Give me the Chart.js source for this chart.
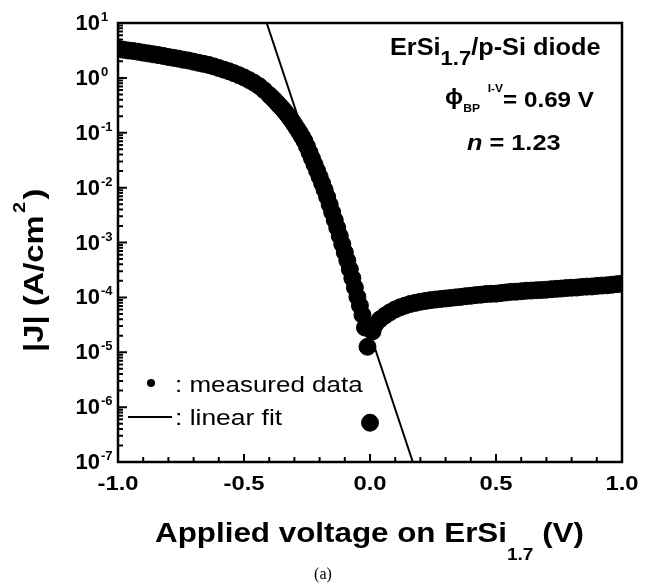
<!DOCTYPE html>
<html>
<head>
<meta charset="utf-8">
<script src="https://cdn.jsdelivr.net/npm/chart.js@4.4.1/dist/chart.umd.min.js"></script>
<style>
  html, body { margin: 0; padding: 0; background: #fff; }
  #wrap { width: 651px; height: 585px; }
</style>
</head>
<body>
<div id="wrap"><canvas id="ivChart" width="651" height="585"></canvas></div>
<script>
// measured |J|-V data of the ErSi1.7/p-Si diode
const measuredV = [
  -1.00, -0.98, -0.96, -0.94, -0.92, -0.90, -0.88, -0.86, -0.84, -0.82,
  -0.80, -0.78, -0.76, -0.74, -0.72, -0.70, -0.68, -0.66, -0.64, -0.62,
  -0.60, -0.58, -0.56, -0.54, -0.52, -0.50, -0.48, -0.46, -0.44, -0.42,
  -0.40, -0.39, -0.38, -0.37, -0.36, -0.35, -0.34, -0.33, -0.32, -0.31,
  -0.30, -0.29, -0.28, -0.27, -0.26, -0.25, -0.24, -0.23, -0.22, -0.21,
  -0.20, -0.19, -0.18, -0.17, -0.16, -0.15, -0.14, -0.13, -0.12, -0.11,
  -0.10, -0.09, -0.08, -0.07, -0.06, -0.05, -0.04, -0.03, -0.02, -0.01,
  0.00, 0.01, 0.02, 0.04, 0.06, 0.08, 0.10, 0.12, 0.14, 0.16,
  0.18, 0.20, 0.22, 0.24, 0.26, 0.28, 0.30, 0.32, 0.34, 0.36,
  0.38, 0.40, 0.42, 0.44, 0.46, 0.48, 0.50, 0.52, 0.54, 0.56,
  0.58, 0.60, 0.62, 0.64, 0.66, 0.68, 0.70, 0.72, 0.74, 0.76,
  0.78, 0.80, 0.82, 0.84, 0.86, 0.88, 0.90, 0.92, 0.94, 0.96,
  0.98, 1.00
];
const measuredJ = [
  3.39, 3.27, 3.16, 3.09, 2.99, 2.88, 2.79, 2.69, 2.60, 2.51,
  2.40, 2.32, 2.24, 2.14, 2.07, 1.97, 1.88, 1.80, 1.72, 1.62,
  1.51, 1.41, 1.32, 1.22, 1.12, 1.02, 0.912, 0.813, 0.708, 0.596,
  0.490, 0.442, 0.398, 0.355, 0.316, 0.282, 0.251, 0.219, 0.191, 0.166,
  0.141, 0.120, 0.102, 0.0851, 0.0708, 0.0562, 0.0437, 0.0339, 0.0263, 0.0204,
  0.0158, 0.0120, 9.12e-3, 6.76e-3, 4.90e-3, 3.55e-3, 2.57e-3, 1.86e-3, 1.32e-3, 9.33e-4,
  6.61e-4, 4.68e-4, 3.24e-4, 2.24e-4, 1.51e-4, 1.02e-4, 7.08e-5, 4.79e-5, 2.82e-5, 1.26e-5,
  5.2e-7, 2.40e-5, 3.16e-5, 3.98e-5, 4.68e-5, 5.37e-5, 6.03e-5, 6.61e-5, 7.08e-5, 7.59e-5,
  7.94e-5, 8.32e-5, 8.61e-5, 8.91e-5, 9.12e-5, 9.33e-5, 9.55e-5, 9.77e-5, 1.00e-4, 1.02e-4,
  1.05e-4, 1.07e-4, 1.10e-4, 1.12e-4, 1.15e-4, 1.16e-4, 1.17e-4, 1.20e-4, 1.23e-4, 1.26e-4,
  1.27e-4, 1.29e-4, 1.32e-4, 1.33e-4, 1.35e-4, 1.36e-4, 1.38e-4, 1.41e-4, 1.43e-4, 1.45e-4,
  1.48e-4, 1.50e-4, 1.51e-4, 1.55e-4, 1.57e-4, 1.58e-4, 1.62e-4, 1.64e-4, 1.66e-4, 1.70e-4,
  1.74e-4, 1.78e-4
];

// linear fit of the forward branch (n = 1.23)
const fitV = [-0.41, 0.17];
const fitJ = [10, 1e-7];

// axis ticks
const xMajorTicks = [-1, -0.5, 0, 0.5, 1];
const xTickLabels = ['-1.0', '-0.5', '0.0', '0.5', '1.0'];
const yDecades = [1, 0, -1, -2, -3, -4, -5, -6, -7];
const yTickExps = ['1', '0', '-1', '-2', '-3', '-4', '-5', '-6', '-7'];

const SANS = '"Liberation Sans", Arial, sans-serif';

// draw a row of text pieces (main text, sub/superscripts) with a horizontal stretch
function drawRuns(ctx, parts, x, y, stretch) {
  ctx.save();
  ctx.translate(x, y);
  ctx.scale(stretch, 1);
  ctx.textAlign = 'left';
  ctx.textBaseline = 'alphabetic';
  let cx = 0;
  parts.forEach(p => {
    ctx.font = p.font;
    ctx.fillText(p.t, cx + (p.dx || 0), p.dy || 0);
    cx += ctx.measureText(p.t).width + (p.dx || 0);
  });
  ctx.restore();
}

const framePlugin = {
  id: 'frame',
  afterDraw(chart) {
    const ctx = chart.ctx;
    const a = chart.chartArea;
    const xs = chart.scales.x, ys = chart.scales.y;
    ctx.save();
    ctx.fillStyle = '#000';
    ctx.strokeStyle = '#000';

    // plot frame
    ctx.lineWidth = 2.5;
    ctx.strokeRect(a.left, a.top, a.right - a.left, a.bottom - a.top);

    // y ticks (inward, decade + minor)
    ctx.lineWidth = 2;
    ctx.beginPath();
    yDecades.forEach(d => {
      const py = ys.getPixelForValue(Math.pow(10, d));
      ctx.moveTo(a.left, py); ctx.lineTo(a.left + 9, py);
      if (d > -7) {
        for (let m = 2; m <= 9; m++) {
          const my = ys.getPixelForValue(m * Math.pow(10, d - 1));
          ctx.moveTo(a.left, my); ctx.lineTo(a.left + 5, my);
        }
      }
    });
    // x ticks
    for (let i = -10; i <= 10; i++) {
      const v = i / 10;
      const px = xs.getPixelForValue(v);
      const len = (i % 5 === 0) ? 8 : 5;
      ctx.moveTo(px, a.bottom); ctx.lineTo(px, a.bottom - len);
    }
    ctx.stroke();

    // y tick labels
    yDecades.forEach((d, i) => {
      const py = ys.getPixelForValue(Math.pow(10, d));
      ctx.font = 'bold 22px ' + SANS;
      ctx.textAlign = 'right';
      ctx.textBaseline = 'alphabetic';
      ctx.fillText('10', 100, py + 7);
      ctx.font = 'bold 13px ' + SANS;
      ctx.textAlign = 'left';
      ctx.fillText(yTickExps[i], 101, py - 2);
    });

    // x tick labels
    xMajorTicks.forEach((v, i) => {
      const px = xs.getPixelForValue(v);
      ctx.font = 'bold 20px ' + SANS;
      const w = ctx.measureText(xTickLabels[i]).width * 1.19;
      drawRuns(ctx, [{ t: xTickLabels[i], font: 'bold 20px ' + SANS }], px - w / 2, 490, 1.19);
    });

    // axis titles
    drawRuns(ctx, [
      { t: 'Applied voltage on ErSi', font: 'bold 28px ' + SANS },
      { t: '1.7', font: 'bold 17px ' + SANS, dy: 18 },
      { t: ' (V)', font: 'bold 28px ' + SANS }
    ], 155, 542, 1.12);

    ctx.save();
    ctx.translate(43, 352);
    ctx.rotate(-Math.PI / 2);
    drawRuns(ctx, [
      { t: '|J| (A/cm', font: 'bold 28px ' + SANS },
      { t: '2', font: 'bold 17px ' + SANS, dy: -18, dx: 2 },
      { t: ')', font: 'bold 28px ' + SANS, dx: 2 }
    ], 0, 0, 1.17);
    ctx.restore();

    // annotation block
    drawRuns(ctx, [
      { t: 'ErSi', font: 'bold 23px ' + SANS },
      { t: '1.7', font: 'bold 20px ' + SANS, dy: 10 },
      { t: '/p-Si diode', font: 'bold 23px ' + SANS }
    ], 390, 55, 1.1);
    drawRuns(ctx, [
      { t: '\u03D5', font: 'bold 22px ' + SANS, dy: -3 },
      { t: 'BP', font: 'bold 11px ' + SANS, dy: 5 },
      { t: 'I-V', font: 'bold 11px ' + SANS, dy: -15, dx: 7 },
      { t: '= 0.69 V', font: 'bold 22px ' + SANS }
    ], 445, 107, 1.1);
    drawRuns(ctx, [
      { t: 'n', font: 'italic bold 22px ' + SANS },
      { t: ' = 1.23', font: 'bold 22px ' + SANS }
    ], 467, 150, 1.15);

    // legend
    ctx.beginPath();
    ctx.arc(151, 383, 4, 0, Math.PI * 2);
    ctx.fill();
    drawRuns(ctx, [{ t: ': measured data', font: '22px ' + SANS }], 175, 392, 1.18);
    ctx.lineWidth = 2;
    ctx.beginPath();
    ctx.moveTo(128, 417); ctx.lineTo(172, 417);
    ctx.stroke();
    drawRuns(ctx, [{ t: ': linear fit', font: '22px ' + SANS }], 175, 425, 1.2);

    // panel label
    ctx.font = '16px "Liberation Serif", "Times New Roman", serif';
    ctx.textAlign = 'center';
    ctx.fillText('(a)', 323, 579);
    ctx.restore();
  }
};

const ctx = document.getElementById('ivChart').getContext('2d');
const ivChart = new Chart(ctx, {
  type: 'scatter',
  data: {
    datasets: [{
      label: 'measured data',
      data: measuredV.map((v, i) => ({ x: v, y: measuredJ[i] })),
      backgroundColor: '#000',
      borderColor: '#000',
      pointRadius: 8.5,
      pointBorderWidth: 1,
      showLine: false,
      clip: 0,
      order: 0
    }, {
      label: 'linear fit',
      type: 'line',
      data: fitV.map((v, i) => ({ x: v, y: fitJ[i] })),
      borderColor: '#000',
      borderWidth: 2,
      pointRadius: 0,
      fill: false,
      clip: 0,
      order: 1
    }]
  },
  options: {
    responsive: false,
    animation: false,
    devicePixelRatio: 1,
    layout: { padding: { left: 118, right: 29, top: 23, bottom: 123 } },
    plugins: { legend: { display: false }, tooltip: { enabled: false } },
    scales: {
      x: { type: 'linear', min: -1, max: 1, display: false },
      y: { type: 'logarithmic', min: 1e-7, max: 10, display: false }
    }
  },
  plugins: [framePlugin]
});
</script>
</body>
</html>
